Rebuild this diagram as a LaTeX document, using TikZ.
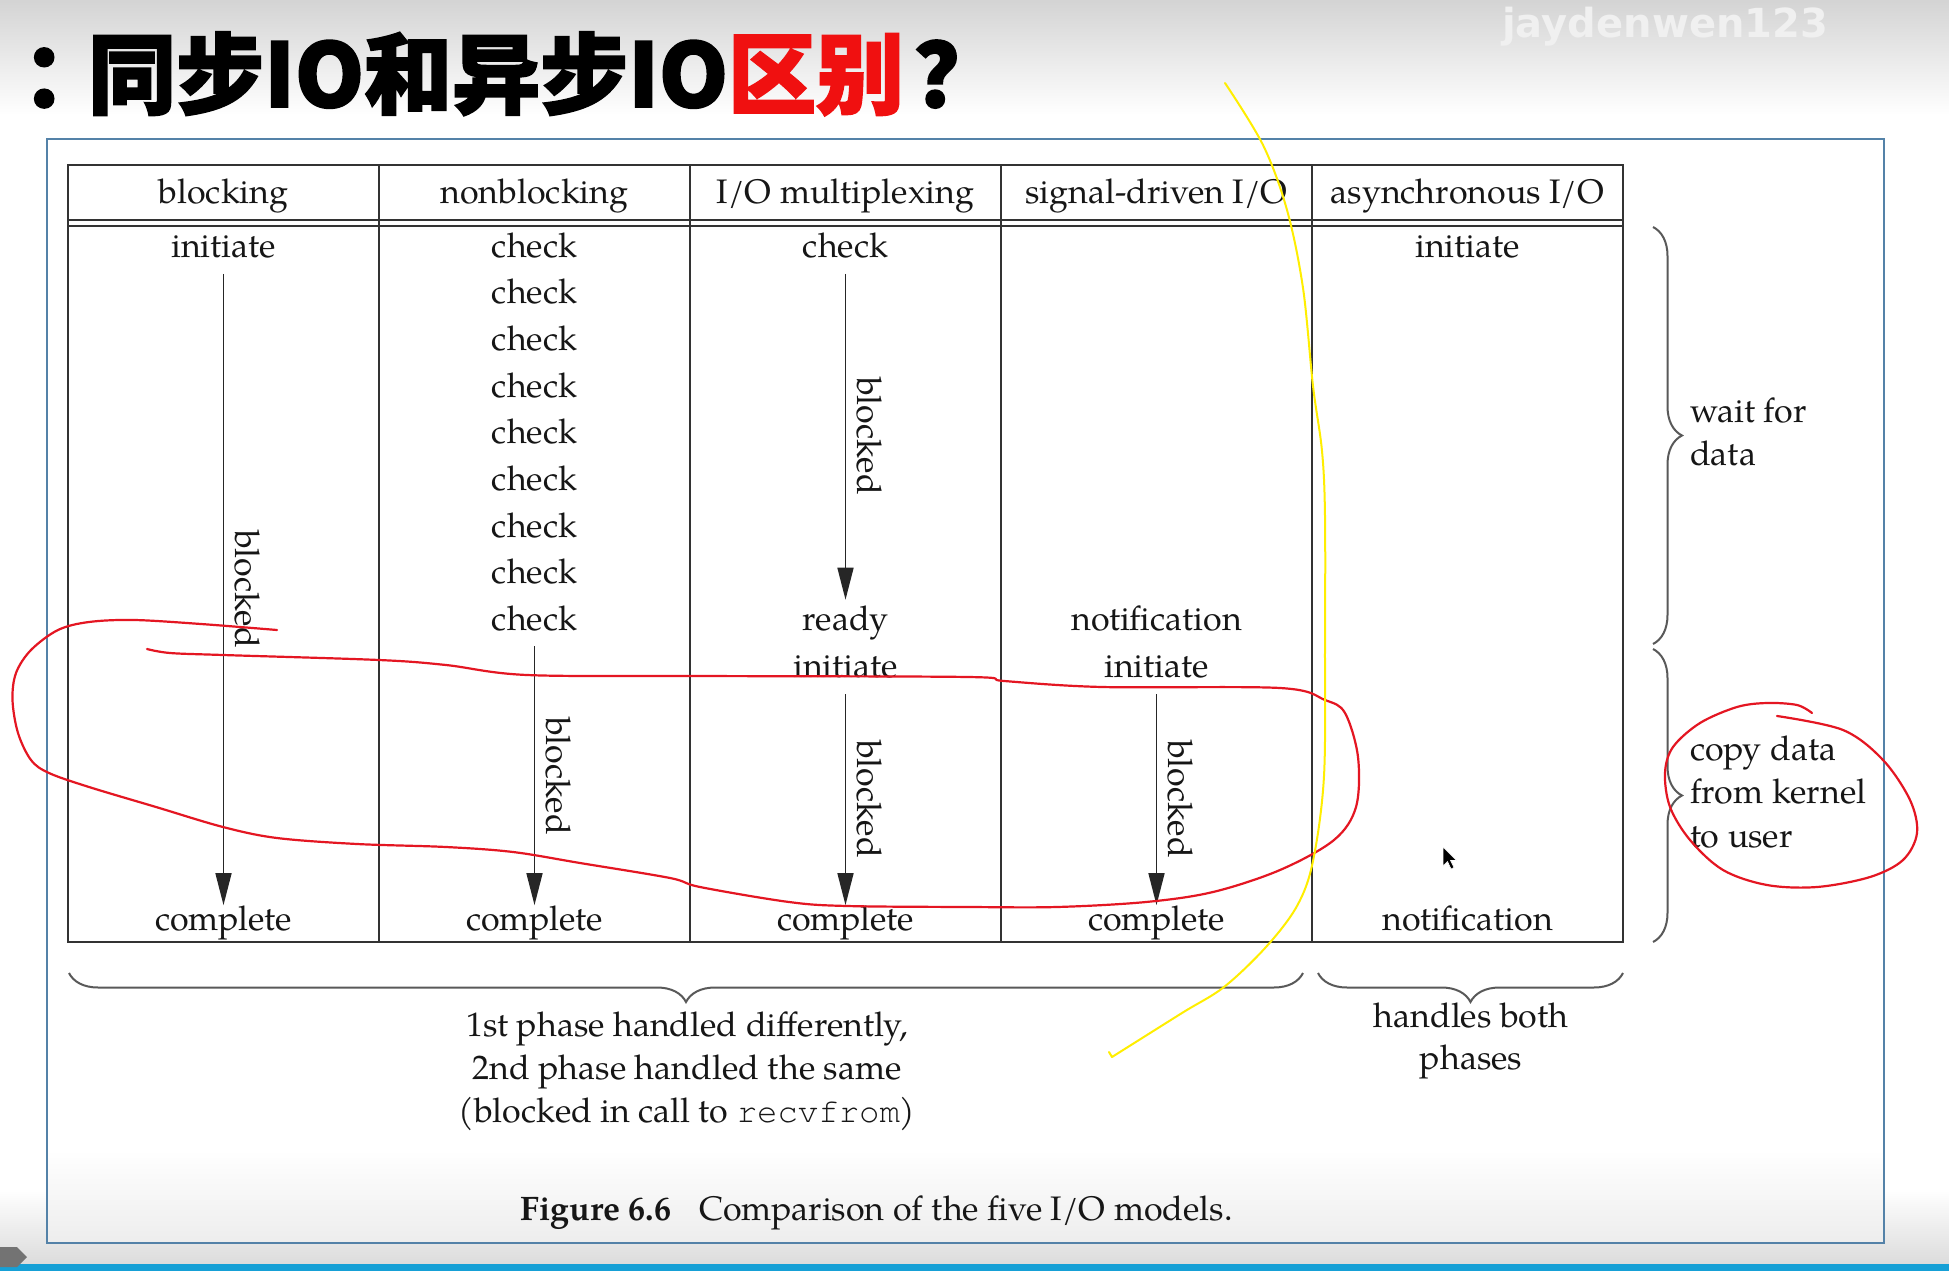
\documentclass[tikz,border=0pt]{standalone}
\usepackage{fontspec}
\setmainfont{TeX Gyre Pagella}
\newfontfamily\cjk{Noto Sans CJK SC}[BoldFeatures={FakeBold=2.2}]
\newfontfamily\codefont{TeX Gyre Cursor}
\newfontfamily\wmfont{DejaVu Sans}
\usetikzlibrary{decorations.pathreplacing,arrows.meta,calc}
\definecolor{frameblue}{RGB}{84,130,168}
\definecolor{titlered}{RGB}{240,16,16}
\definecolor{inkred}{RGB}{228,22,34}
\definecolor{inkyellow}{RGB}{255,238,0}
\definecolor{barcyan}{RGB}{22,160,214}
\definecolor{txtblack}{RGB}{22,22,22}
\begin{document}
\begin{tikzpicture}[x=1pt,y=-1pt,
  lbl/.style={font={\fontsize{34}{40}\selectfont}, inner sep=0pt, anchor=base, text=txtblack},
  lblw/.style={lbl, anchor=base west},
  blk/.style={lbl, rotate=-90},
  grid/.style={draw=black!80, line width=2.2pt},
  blkarrow/.style={draw=black!85, line width=1.6pt, -{Triangle[length=32pt,width=16pt]}},
  bracepen/.style={draw=black!65, line width=2pt, decorate, decoration={brace, amplitude=29pt}},
  redpen/.style={draw=inkred, line width=2.2pt, line cap=round, line join=round},
  yellowpen/.style={draw=inkyellow, line width=2pt, line cap=round, line join=round}]
\useasboundingbox (0,0) rectangle (1949,1271);
% background
\fill[white] (0,0) rectangle (1949,1271);
\shade[top color=black!17, bottom color=white] (0,0) rectangle (1949,115);
\shade[top color=white, bottom color=black!14] (0,1190) rectangle (1949,1265);
\fill[barcyan] (0,1264) rectangle (1949,1271);
\fill[black!55] (0,1247) -- (17,1247) -- (27,1257) -- (17,1267) -- (0,1267) -- cycle;
% watermark
\node[anchor=base west, inner sep=0, font={\wmfont\bfseries\fontsize{40}{40}\selectfont}, text=black!6] (wm) at (1502,38) {jaydenwen123};
% title
\node[anchor=base west, inner sep=0, font={\cjk\bfseries\fontsize{88}{88}\selectfont}, text=black] (title) at (0,107) {\kern22pt：\kern-22pt同步IO和异步IO\textcolor{titlered}{区别}\kern10pt？};
% frame
\fill[white] (47,139) rectangle (1884,1243);
\shade[top color=white, bottom color=black!7] (47,1150) rectangle (1884,1243);
\draw[frameblue, line width=2.5pt] (47,139) rectangle (1884,1243);
% table grid
\draw[grid] (68,165) rectangle (1623,942);
\foreach \x in {379,690,1001,1312} \draw[grid] (\x,165) -- (\x,942);
\draw[grid] (68,220) -- (1623,220);
\draw[grid] (68,226) -- (1623,226);
% headers
\node[lbl] (h1) at (223.5,203) {blocking};
\node[lbl] (h2) at (534.5,203) {nonblocking};
\node[lbl] (h3) at (845.5,203) {I/O multiplexing};
\node[lbl] (h4) at (1156.5,203) {signal-driven I/O};
\node[lbl] (h5) at (1467.5,203) {asynchronous I/O};
% column 1: blocking
\node[lbl] (bi) at (223.5,257) {initiate};
\node[lbl] (bc) at (223.5,930) {complete};
\draw[blkarrow, shorten <=16pt] (bi.south) -- (bc.north);
\node[blk] (bb) at (235.5,589) {blocked};
% column 2: nonblocking
\foreach \i in {0,...,8} \node[lbl] (nb\i) at (534.5,{257+46.7*\i}) {check};
\node[lbl] (nc) at (534.5,930) {complete};
\draw[blkarrow, shorten <=15pt] (nb8.south) -- (nc.north);
\node[blk] (nbb) at (546.5,776) {blocked};
% column 3: I/O multiplexing
\node[lbl] (mk) at (845.5,257) {check};
\node[lbl] (mr) at (845.5,630.6) {ready};
\node[lbl] (mi) at (845.5,677.3) {initiate};
\node[lbl] (mc) at (845.5,930) {complete};
\draw[blkarrow, shorten <=16pt, shorten >=6pt] (mk.south) -- (mr.north);
\draw[blkarrow, shorten <=16pt] (mi.south) -- (mc.north);
\node[blk] (mb1) at (857.5,436) {blocked};
\node[blk] (mb2) at (857.5,799) {blocked};
% column 4: signal-driven
\node[lbl] (sn) at (1156.5,630.6) {notification};
\node[lbl] (si) at (1156.5,677.3) {initiate};
\node[lbl] (sc) at (1156.5,930) {complete};
\draw[blkarrow, shorten <=16pt] (si.south) -- (sc.north);
\node[blk] (sb) at (1168.5,799) {blocked};
% column 5: asynchronous
\node[lbl] (ai) at (1467.5,257) {initiate};
\node[lbl] (an) at (1467.5,930) {notification};
% right braces
\coordinate (rb1a) at (1653,227);
\coordinate (rb1b) at (1653,644);
\coordinate (rb2a) at (1653,649);
\coordinate (rb2b) at (1653,942);
\draw[bracepen] (rb1a) -- (rb1b);
\draw[bracepen] (rb2a) -- (rb2b);
\node[lblw] (w1) at (1690,422) {wait for};
\node[lblw] (w2) at (1690,465) {data};
\node[lblw] (c1) at (1690,760) {copy data};
\node[lblw] (c2) at (1690,803) {from kernel};
\node[lblw] (c3) at (1690,847) {to user};
% bottom braces
\coordinate (bb1a) at (1303,973);
\coordinate (bb1b) at (69,973);
\coordinate (bb2a) at (1623,973);
\coordinate (bb2b) at (1318,973);
\draw[bracepen] (bb1a) -- (bb1b);
\draw[bracepen] (bb2a) -- (bb2b);
\node[lbl] (p1) at (687,1036) {1st phase handled differently,};
\node[lbl] (p2) at (687,1079) {2nd phase handled the same};
\node[lbl] (p3) at (687,1122) {(blocked in call to {\codefont recvfrom})};
\node[lbl] (hb1) at (1471,1027) {handles both};
\node[lbl] (hb2) at (1471,1069) {phases};
% caption
\node[lblw] (fig) at (520,1220) {\bfseries Figure 6.6};
\node[lblw] (cap) at (699,1220) {Comparison of the five I/O models.};
% cursor
\fill[black, draw=white, line width=0.6pt] (1443,847) -- (1443,866) -- (1447.5,861.5) -- (1451,869) -- (1454,867.5) -- (1450.5,860.5) -- (1456.5,860.5) -- cycle;
% hand-drawn annotations
\draw[redpen] plot[smooth, tension=0.55] coordinates {(277,630) (201,624) (134,620) (89,622) (58,630) (31,650) (16,673) (12.5,700) (18,733) (31,760) (49,773) (89,787) (156,807) (223,827) (277,838) (357,844) (446,847) (513,852) (580,863) (670,878) (700,887) (789,902) (847,906) (968,907) (1057,907) (1146,902) (1213,892) (1280,870) (1334,840) (1356,807) (1358,757) (1345,713) (1325,700) (1280,688) (1102,687) (1004,681) (968,677) (700,676) (527,675) (446,665) (379,660) (223,655) (170,653) (147,649)};
\draw[redpen] plot[smooth, tension=0.55] coordinates {(1777,716) (1843,730) (1883,760) (1910,800) (1917,833) (1903,860) (1870,877) (1817,887) (1767,885) (1723,870) (1690,840) (1670,807) (1665,773) (1673,747) (1700,723) (1737,707) (1767,703) (1797,705) (1812,713)};
\draw[yellowpen] plot[smooth, tension=0.55] coordinates {(1225,83) (1263,145) (1287,210) (1303,288) (1313,386) (1322,451) (1325,516) (1325,646) (1324,776) (1313,861) (1297,906) (1266,947) (1224,987) (1182,1013) (1112,1057)} -- (1109,1052);
\end{tikzpicture}
\end{document}
